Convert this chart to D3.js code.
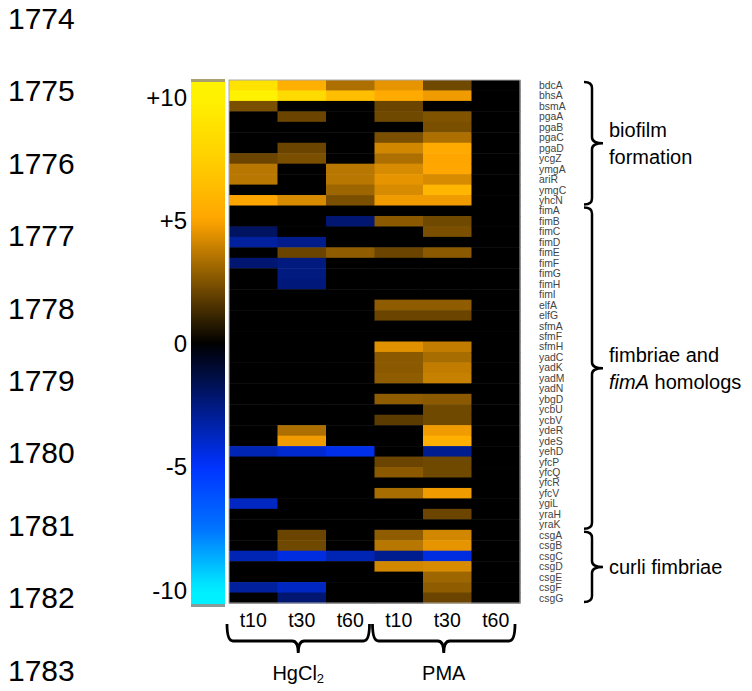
<!DOCTYPE html>
<html>
<head>
<meta charset="utf-8">
<style>
  body { margin: 0; background: #fff; }
  svg { font-family: "Liberation Sans", Arial, sans-serif; }
</style>
</head>
<body>
<svg id="chart" width="752" height="691"></svg>
<script src="https://cdn.jsdelivr.net/npm/d3@7"></script>
<script>
// genes, in display order
const genes = ["bdcA","bhsA","bsmA","pgaA","pgaB","pgaC","pgaD","ycgZ","ymgA","ariR","ymgC","yhcN",
  "fimA","fimB","fimC","fimD","fimE","fimF","fimG","fimH","fimI","elfA","elfG","sfmA","sfmF","sfmH",
  "yadC","yadK","yadM","yadN","ybgD","ycbU","ycbV","ydeR","ydeS","yehD","yfcP","yfcQ","yfcR","yfcV",
  "ygiL","yraH","yraK",
  "csgA","csgB","csgC","csgD","csgE","csgF","csgG"];

const timepoints = ["t10", "t30", "t60"];
const treatments = ["HgCl2", "PMA"];
const groups = [
  {name: "biofilm formation", lines: ["biofilm", "formation"], from: "bdcA", to: "yhcN"},
  {name: "fimbriae", lines: ["fimbriae and", "fimA homologs"], from: "fimA", to: "yraK"},
  {name: "curli", lines: ["curli fimbriae"], from: "csgA", to: "csgG"}
];
const lineNumbers = [1774, 1775, 1776, 1777, 1778, 1779, 1780, 1781, 1782, 1783];
const legendTicks = [10, 5, 0, -5, -10];

// fold change per column
const hg10  = [8.8,10,2.4,0,0,0,0,2.1,3.6,3.6,0,5.0,
  0,0,-1.9,-3.1,0,-2.2,0,0,0,0,0,0,0,0,0,0,0,0,0,0,0,0,0,-3.5,0,0,0,0,-3.8,0,0,
  0,0,-3.5,0,0,-3.1,0];
const hg30  = [5.6,8.2,0,2.1,0,0,2.1,2.4,0,0,0,4.2,
  0,0,0,-2.7,2.1,-2.5,-2.5,-2.4,0,0,0,0,0,0,0,0,0,0,0,0,0,3.4,4.7,-4.1,0,0,0,0,0,0,0,
  2.1,2.2,-4.4,0,0,-3.8,-2.2];
const hg60  = [3.4,6.5,0,0,0,0,0,0,3.6,3.6,3.1,2.4,
  0,-2.2,0,0,2.8,0,0,0,0,0,0,0,0,0,0,0,0,0,0,0,0,0,0,-4.6,0,0,0,0,0,0,0,
  0,0,-3.5,0,0,0,0];
const pma10 = [4.5,5.3,2.1,2.2,0,2.4,4.1,3.4,4.2,4.5,4.2,4.7,
  0,2.7,0,0,2.1,0,0,0,0,2.8,2.1,0,0,4.4,2.7,2.7,2.8,0,2.8,0,1.8,0,0,0,2.1,2.7,0,3.3,0,0,0,
  2.8,3.6,-2.8,4.1,0,0,0];
const pma30 = [2.2,4.7,0,2.5,2.4,3.4,5.3,5.0,5.1,4.2,6.0,4.7,
  0,2.2,2.4,0,2.7,0,0,0,0,2.8,2.1,0,0,3.8,3.3,3.8,3.9,0,2.7,2.2,2.2,4.7,5.6,-2.8,2.2,2.2,0,4.7,0,2.1,0,
  4.1,4.5,-4.4,4.2,3.1,2.8,2.1];
const pma60 = genes.map(() => 0);

const series = [hg10, hg30, hg60, pma10, pma30, pma60];
const columns = treatments.flatMap(t => timepoints.map(tp => t + " " + tp));

const svg = d3.select("#chart");

const x = d3.scaleBand().domain(columns).range([229, 520]);
const y = d3.scaleBand().domain(genes).range([80, 603]);

const color = d3.scaleLinear()
  .domain([-10, -7.5, -5, 0, 5, 7.5, 10])
  .range(["#00f0ff", "#0072ff", "#0033ff", "#000000", "#ffa500", "#ffd000", "#fff200"])
  .clamp(true);

// line numbers of the manuscript
svg.append("g")
  .attr("font-size", 30)
  .selectAll("text")
  .data(lineNumbers)
  .join("text")
    .attr("x", 8)
    .attr("y", (d, i) => 29 + i * 72.4)
    .text(d => d);

// heatmap cells
const cells = [];
series.forEach((vals, j) => vals.forEach((v, i) => cells.push({gene: genes[i], col: columns[j], v})));

svg.append("g")
  .selectAll("rect")
  .data(cells)
  .join("rect")
    .attr("x", d => x(d.col))
    .attr("y", d => y(d.gene))
    .attr("width", x.bandwidth() + 0.5)
    .attr("height", y.bandwidth() + 0.5)
    .attr("fill", d => color(d.v));

svg.append("rect")
  .attr("x", 229).attr("y", 80)
  .attr("width", 291).attr("height", 523)
  .attr("fill", "none")
  .attr("stroke", "#aaa")
  .attr("stroke-width", 1);

// colour bar
const legendY = d3.scaleLinear().domain([10, -10]).range([97, 590]);
const defs = svg.append("defs");
const grad = defs.append("linearGradient")
  .attr("id", "cbar").attr("x1", 0).attr("y1", 0).attr("x2", 0).attr("y2", 1);
const vTop = legendY.invert(82), vBottom = legendY.invert(604);
d3.range(0, 1.0001, 0.02).forEach(t => {
  grad.append("stop")
    .attr("offset", t)
    .attr("stop-color", color(vTop + (vBottom - vTop) * t));
});
svg.append("rect")
  .attr("x", 191).attr("y", 82)
  .attr("width", 34).attr("height", 522)
  .attr("fill", "url(#cbar)");
svg.append("rect").attr("x", 191).attr("y", 79).attr("width", 34).attr("height", 3).attr("fill", "#a8a070");
svg.append("rect").attr("x", 191).attr("y", 604).attr("width", 34).attr("height", 3).attr("fill", "#8a9a9a");

svg.append("g")
  .attr("font-size", 24)
  .attr("text-anchor", "end")
  .selectAll("text")
  .data(legendTicks)
  .join("text")
    .attr("x", 187)
    .attr("y", d => legendY(d))
    .attr("dy", "0.36em")
    .text(d => d > 0 ? "+" + d : d);

// gene labels
svg.append("g")
  .attr("font-size", 10.4)
  .attr("fill", "#444")
  .selectAll("text")
  .data(genes)
  .join("text")
    .attr("x", 539)
    .attr("y", d => y(d) + y.bandwidth() / 2)
    .attr("dy", "0.36em")
    .text(d => d);

// right-hand braces
function vBrace(y0, y1) {
  const xv = 592, xl = 584, xt = 603, r = 6, ym = (y0 + y1) / 2;
  return `M${xl},${y0} Q${xv},${y0} ${xv},${y0 + r} L${xv},${ym - r} Q${xv},${ym} ${xt},${ym}` +
         ` Q${xv},${ym} ${xv},${ym + r} L${xv},${y1 - r} Q${xv},${y1} ${xl},${y1}`;
}
groups.forEach(g => {
  const y0 = y(g.from) + 2, y1 = y(g.to) + y.bandwidth() - 1;
  svg.append("path")
    .attr("d", vBrace(y0, y1))
    .attr("fill", "none").attr("stroke", "#000").attr("stroke-width", 2.5);
  const ym = (y0 + y1) / 2;
  const t = svg.append("text").attr("font-size", 20).attr("x", 609);
  g.lines.forEach((ln, k) => {
    const yy = ym + 7 + (k - (g.lines.length - 1) / 2) * 27;
    const ts = t.append("tspan").attr("x", 609).attr("y", yy);
    if (ln.startsWith("fimA")) {
      ts.append("tspan").attr("font-style", "italic").text("fimA");
      ts.append("tspan").text(" homologs");
    } else {
      ts.text(ln);
    }
  });
});

// column labels
svg.append("g")
  .attr("font-size", 19.5)
  .attr("text-anchor", "middle")
  .selectAll("text")
  .data(columns)
  .join("text")
    .attr("x", d => x(d) + x.bandwidth() / 2)
    .attr("y", 627)
    .text(d => d.split(" ")[1]);

// bottom braces
function hBrace(x0, x1) {
  const yt = 624, yh = 641, yb = 653, r = 6, xm = (x0 + x1) / 2;
  return `M${x0},${yt} Q${x0},${yh} ${x0 + r},${yh} L${xm - r},${yh} Q${xm},${yh} ${xm},${yb}` +
         ` Q${xm},${yh} ${xm + r},${yh} L${x1 - r},${yh} Q${x1},${yh} ${x1},${yt}`;
}
treatments.forEach(t => {
  const c0 = x(t + " t10"), c1 = x(t + " t60") + x.bandwidth();
  const x0 = c0 - 2, x1 = c1 - 5;
  svg.append("path")
    .attr("d", hBrace(x0, x1))
    .attr("fill", "none").attr("stroke", "#000").attr("stroke-width", 2.8);
  const lab = svg.append("text")
    .attr("font-size", 20)
    .attr("text-anchor", "middle")
    .attr("x", (x0 + x1) / 2)
    .attr("y", 680);
  if (t === "HgCl2") {
    lab.append("tspan").text("HgCl");
    lab.append("tspan").attr("font-size", 13).attr("dy", 3).text("2");
  } else {
    lab.text(t);
  }
});
</script>
</body>
</html>
